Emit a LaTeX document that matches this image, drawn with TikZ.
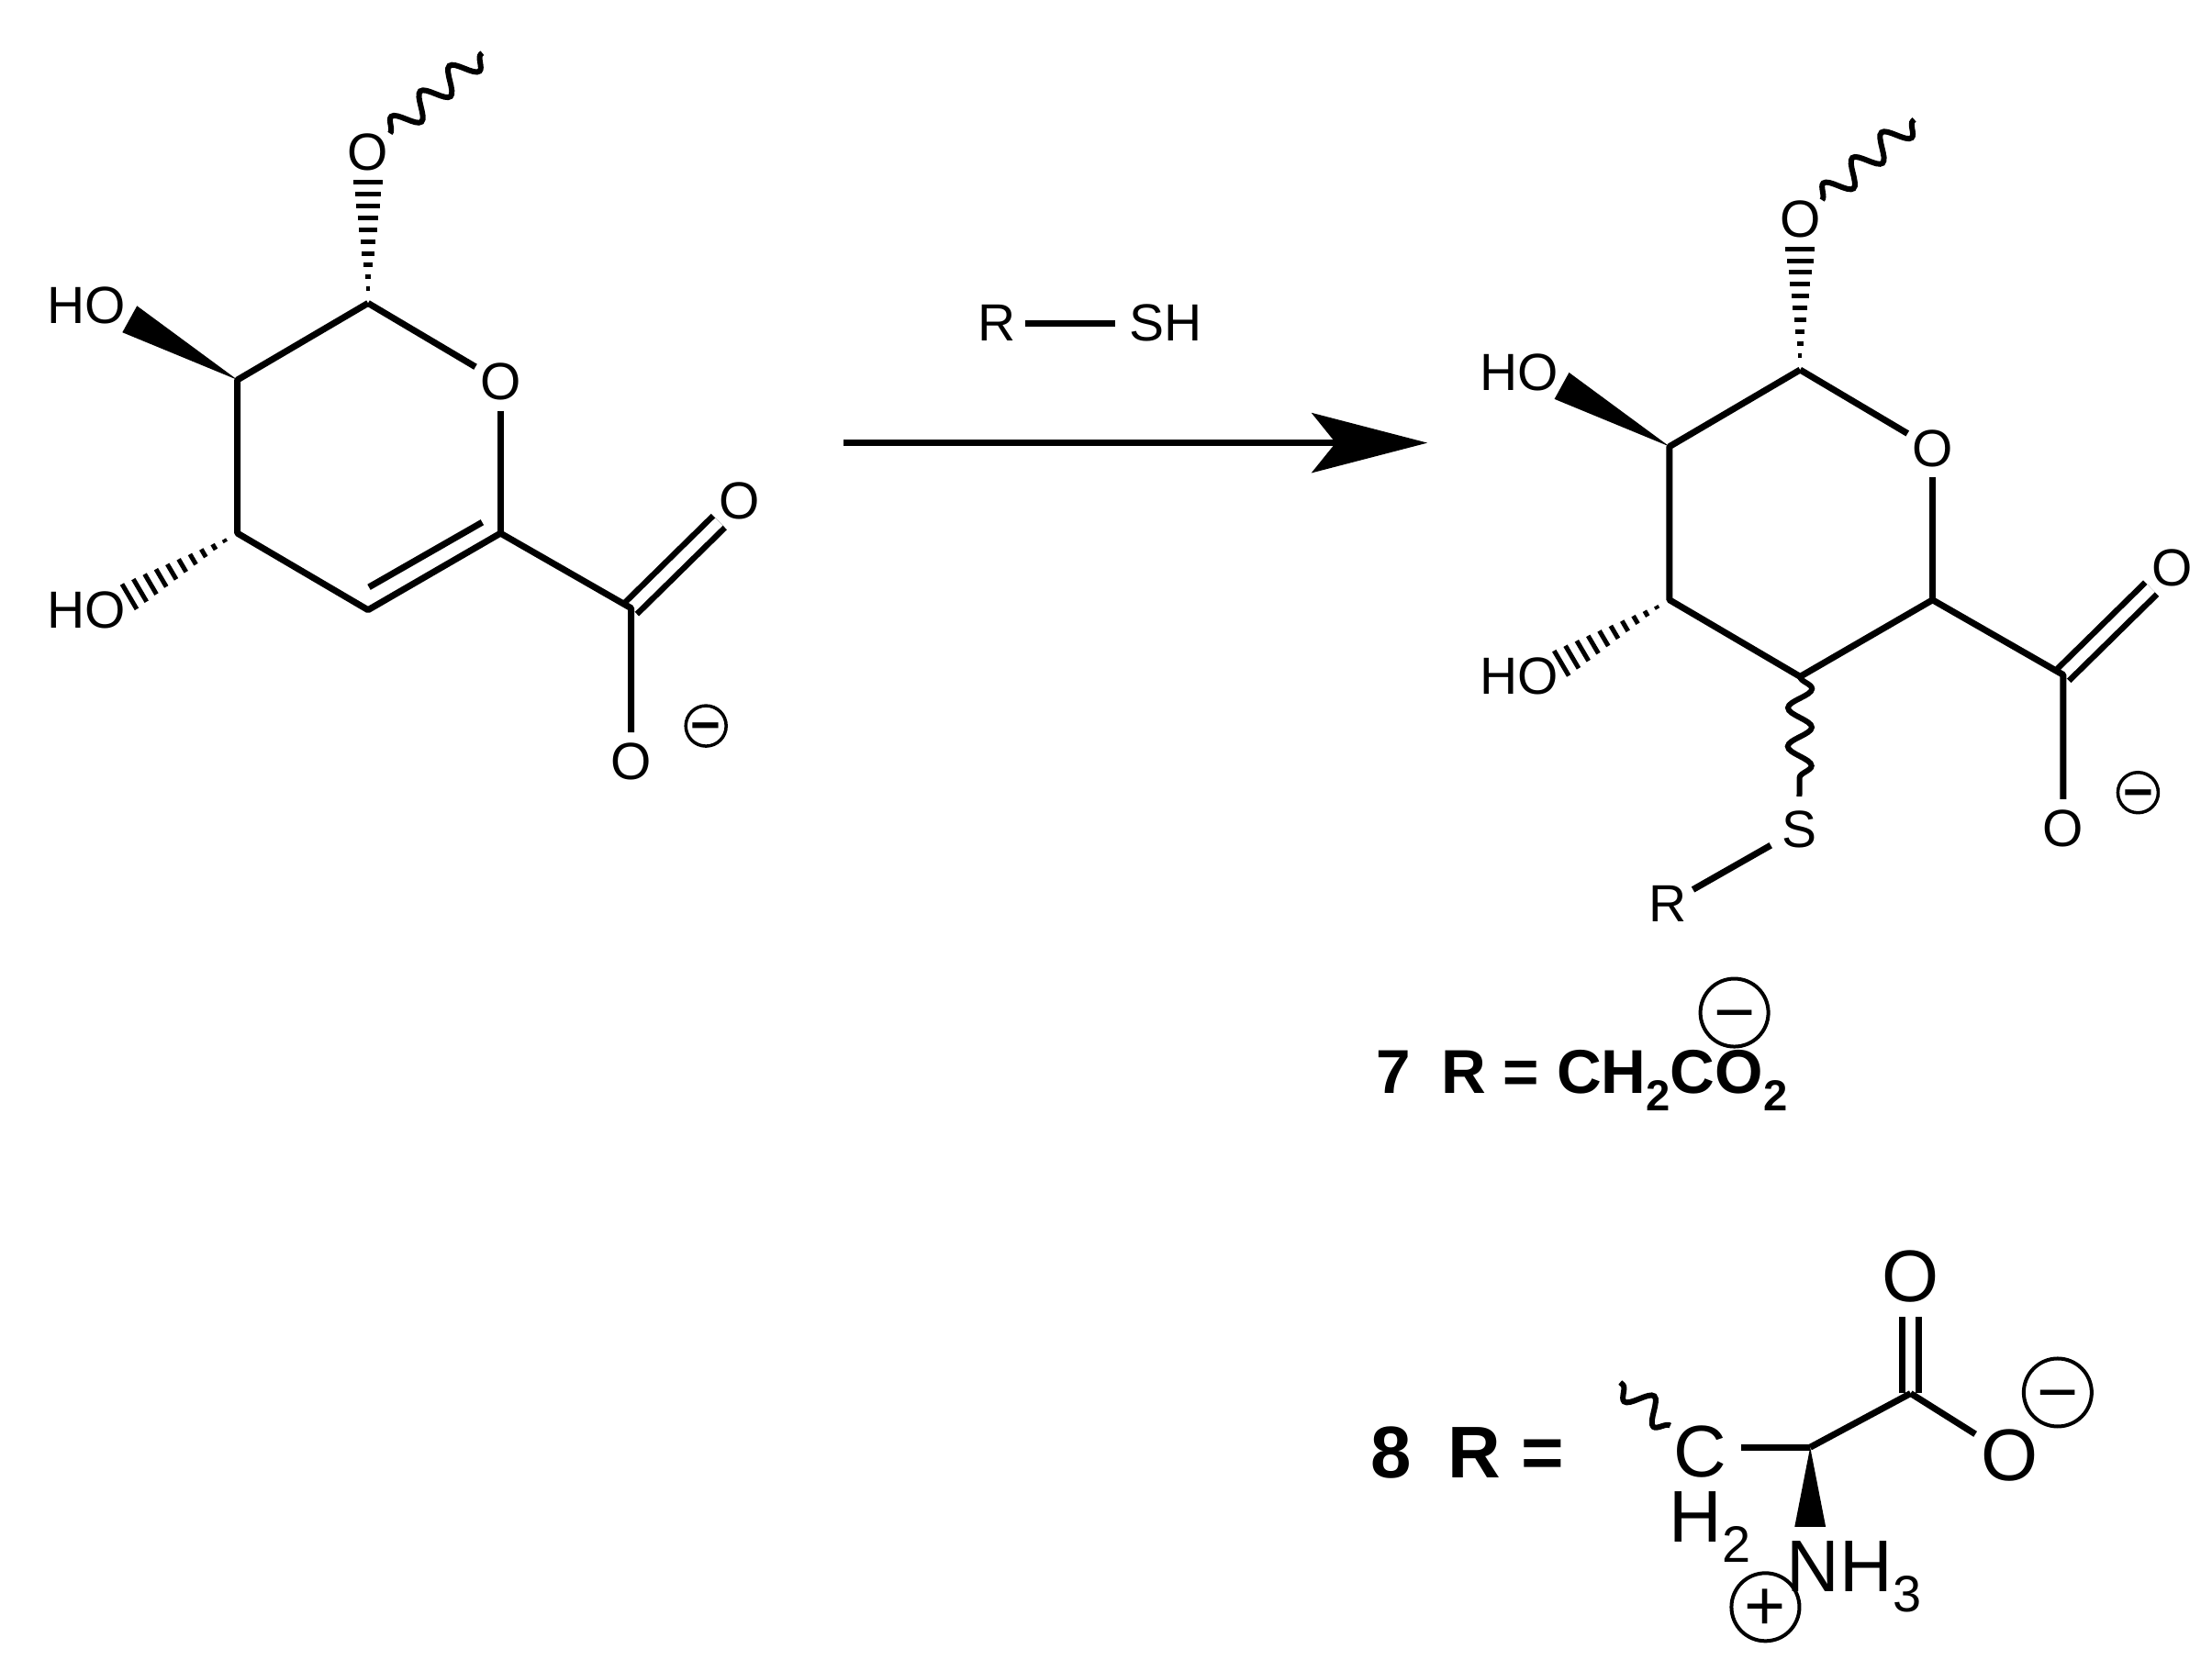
\documentclass[tikz,border=0pt]{standalone}
\usepackage{fontspec}
\setmainfont{Liberation Sans}
\usetikzlibrary{arrows.meta,calc,decorations.pathmorphing}
\newcommand{\lowsub}[1]{\raisebox{-.28em}{\scalebox{.7}{#1}}}
\newcommand{\chgsign}[1]{\raisebox{-.33em}[0pt][0pt]{#1}}
\newcommand{\hashbond}[2]{%
\foreach \t in {.12,.22,...,1.03} {
\coordinate (m) at ($(#1)!\t!(#2)$);
\path[draw,hash] ($(m)!\t*.155cm!90:(#2)$) -- ($(m)!\t*.155cm!-90:(#2)$);
}}
\tikzset{
bond/.style={line width=.07cm},
dblbond/.style={line width=.065cm,double,double distance=.115cm},
hash/.style={line width=.05cm},
wedge/.style={fill=black},
wave/.style={line width=.06cm,decorate,decoration={snake,segment length=.42cm,amplitude=.13cm}},
atom/.style={circle,inner sep=0pt,minimum size=.62cm,font=\fontsize{16.2pt}{18pt}\selectfont},
label/.style={inner sep=0pt,font=\fontsize{16.2pt}{18pt}\selectfont},
bigatom/.style={circle,inner sep=0pt,minimum size=.86cm,font=\fontsize{22.7pt}{24pt}\selectfont},
biglabel/.style={inner sep=0pt,font=\fontsize{22.7pt}{24pt}\selectfont},
chgsmall/.style={draw,circle,line width=.035cm,inner sep=0pt,minimum size=.44cm,font=\fontsize{16pt}{18pt}\bfseries\selectfont},
chgbig/.style={draw,circle,line width=.04cm,inner sep=0pt,minimum size=.74cm,font=\fontsize{22pt}{24pt}\selectfont},
}
\begin{document}
\begin{tikzpicture}[x=.00995cm,y=-.00995cm]
\useasboundingbox (0,0) rectangle (2422,1830);

% left sugar
\coordinate (c1) at (403,332);
\coordinate (c2) at (260,416);
\coordinate (c3) at (260,584);
\coordinate (c4) at (403,668);
\coordinate (c5) at (548,584);
\coordinate (c6) at (691,666);
\coordinate (d1) at (528,572);
\coordinate (d2) at (404,643);
\coordinate (h1) at (403,202);
\coordinate (h3) at (144,652);
\coordinate (w1) at (150,335);
\coordinate (w2) at (134,364);
\coordinate (t1) at (528,58);
\node[atom] (o1) at (403,167) {O};
\node[atom] (o5) at (548,418) {O};
\node[atom] (o6) at (810,549) {O};
\node[atom] (o7) at (691,834) {O};
\node[label] (ho2) at (95,335) {HO};
\node[label] (ho3) at (95,668) {HO};
\node[chgsmall] (q1) at (773,795) {\chgsign{−}};

\path[draw,dblbond] (c6) -- (o6);
\path[draw,bond] (c1) -- (o5);
\path[draw,bond] (o5) -- (c5);
\path[draw,bond,line join=round] (c1) -- (c2) -- (c3) -- (c4) -- (c5) -- (c6) -- (o7);
\path[draw,bond] (d1) -- (d2);
\path[wedge] (c2) -- (w1) -- (w2) -- cycle;
\hashbond{c1}{h1}
\hashbond{c3}{h3}
\path[draw,wave] (o1) -- (t1);

% reagent and arrow
\node[label] (r0) at (1091,354) {R};
\node[label] (sh) at (1276,354) {SH};
\path[draw,bond,shorten <=3pt,shorten >=4pt] (r0) -- (sh);
\coordinate (a1) at (924,485);
\coordinate (a2) at (1563,485);
\path[draw,bond,-{Stealth[length=1.26cm,width=.65cm,inset=.26cm]}] (a1) -- (a2);

% right sugar
\coordinate (e1) at (1971,405);
\coordinate (e2) at (1828,489);
\coordinate (e3) at (1828,657);
\coordinate (e4) at (1971,741);
\coordinate (e5) at (2116,657);
\coordinate (e6) at (2259,739);
\coordinate (j1) at (1971,275);
\coordinate (j3) at (1712,725);
\coordinate (v1) at (1718,408);
\coordinate (v2) at (1702,437);
\coordinate (t2) at (2096,131);
\node[atom] (p1) at (1971,240) {O};
\node[atom] (p5) at (2116,491) {O};
\node[atom] (p6) at (2378,622) {O};
\node[atom] (p7) at (2259,907) {O};
\node[atom,minimum size=.7cm] (s1) at (1970,908) {S};
\node[atom] (r1) at (1826,990) {R};
\node[label] (ho4) at (1663,408) {HO};
\node[label] (ho5) at (1663,741) {HO};
\node[chgsmall] (q2) at (2341,868) {\chgsign{−}};

\path[draw,dblbond] (e6) -- (p6);
\path[draw,bond] (e1) -- (p5);
\path[draw,bond] (p5) -- (e5);
\path[draw,bond,line join=round] (e1) -- (e2) -- (e3) -- (e4) -- (e5) -- (e6) -- (p7);
\path[draw,bond] (s1) -- (r1);
\path[wedge] (e2) -- (v1) -- (v2) -- cycle;
\hashbond{e1}{j1}
\hashbond{e3}{j3}
\path[draw,wave] (p1) -- (t2);
\path[draw,wave] (e4) -- (s1);

% compound 7
\node[inner sep=0pt,anchor=base west,font=\fontsize{19.2pt}{21pt}\bfseries\selectfont] (n7) at (1506,1197) {7\hspace{.5em}R = CH\lowsub{2}CO\lowsub{2}};
\node[chgbig] (q3) at (1899,1109) {\chgsign{−}};

% compound 8
\node[inner sep=0pt,anchor=base west,font=\fontsize{22.7pt}{24pt}\bfseries\selectfont] (n8) at (1500,1618) {8\hspace{.5em}R =};
\coordinate (t3) at (1774,1514);
\coordinate (k1) at (1982,1585);
\coordinate (k2) at (2092,1526);
\coordinate (y1) at (1965,1672);
\coordinate (y2) at (1999,1672);
\node[bigatom] (c7) at (1862,1590) {C};
\node[biglabel] (h2) at (1872,1672) {H\lowsub{2}};
\node[bigatom] (o8) at (2092,1398) {O};
\node[bigatom] (o9) at (2200,1594) {O};
\node[biglabel] (nh) at (2030,1727) {NH\lowsub{3}};
\node[chgbig] (q4) at (2253,1525) {\chgsign{−}};
\node[chgbig] (q5) at (1933,1760) {\chgsign{+}};

\path[draw,dblbond] (k2) -- (o8);
\path[draw,bond] (c7.east |- k1) -- (k1);
\path[draw,bond] (k1) -- (k2);
\path[draw,bond] (k2) -- (o9);
\path[wedge] (k1) -- (y1) -- (y2) -- cycle;
\path[draw,wave] (c7) -- (t3);
\end{tikzpicture}
\end{document}
